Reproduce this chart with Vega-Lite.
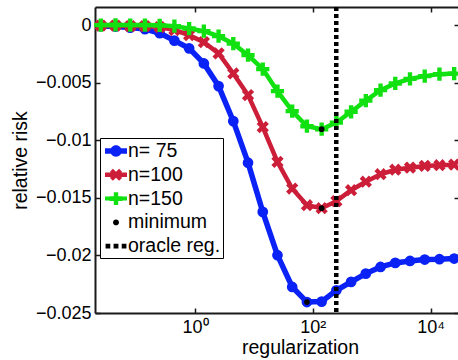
{
  "$schema": "https://vega.github.io/schema/vega-lite/v6.json",
  "width": 363,
  "height": 306,
  "autosize": {"type": "none"},
  "padding": {"left": 95, "top": 7, "right": 0, "bottom": 47},
  "config": {
    "font": "Liberation Sans",
    "view": {"stroke": null},
    "axis": {"grid": false, "domainColor": "#1a1a1a", "domainWidth": 2, "tickColor": "#1a1a1a", "tickWidth": 1.5, "labelColor": "black", "labelFontSize": 18, "titleFontSize": 19.5, "titleFontWeight": "normal", "titleColor": "black", "labelFont": "Liberation Sans", "titleFont": "Liberation Sans"}
  },
  "datasets": {
    "risk": [
      {"lam": 0.025119, "risk": -0.00009, "series": "n= 75"},
      {"lam": 0.044668, "risk": -0.00013, "series": "n= 75"},
      {"lam": 0.079433, "risk": -0.00022, "series": "n= 75"},
      {"lam": 0.141254, "risk": -0.00035, "series": "n= 75"},
      {"lam": 0.251189, "risk": -0.0007, "series": "n= 75"},
      {"lam": 0.446684, "risk": -0.00135, "series": "n= 75"},
      {"lam": 0.794328, "risk": -0.00202, "series": "n= 75"},
      {"lam": 1.412538, "risk": -0.00333, "series": "n= 75"},
      {"lam": 2.511886, "risk": -0.0053, "series": "n= 75"},
      {"lam": 4.466836, "risk": -0.00834, "series": "n= 75"},
      {"lam": 7.943282, "risk": -0.01195, "series": "n= 75"},
      {"lam": 14.12538, "risk": -0.01622, "series": "n= 75"},
      {"lam": 25.11886, "risk": -0.01998, "series": "n= 75"},
      {"lam": 44.66836, "risk": -0.02274, "series": "n= 75"},
      {"lam": 79.43282, "risk": -0.02405, "series": "n= 75"},
      {"lam": 141.2538, "risk": -0.02401, "series": "n= 75"},
      {"lam": 251.1886, "risk": -0.02303, "series": "n= 75"},
      {"lam": 446.6836, "risk": -0.0223, "series": "n= 75"},
      {"lam": 794.3282, "risk": -0.02158, "series": "n= 75"},
      {"lam": 1412.538, "risk": -0.021, "series": "n= 75"},
      {"lam": 2511.886, "risk": -0.02065, "series": "n= 75"},
      {"lam": 4466.836, "risk": -0.02048, "series": "n= 75"},
      {"lam": 7943.282, "risk": -0.02036, "series": "n= 75"},
      {"lam": 14125.38, "risk": -0.02033, "series": "n= 75"},
      {"lam": 25118.86, "risk": -0.02027, "series": "n= 75"},
      {"lam": 0.025119, "risk": -0.00004, "series": "n=100"},
      {"lam": 0.044668, "risk": -0.00004, "series": "n=100"},
      {"lam": 0.079433, "risk": -0.00009, "series": "n=100"},
      {"lam": 0.141254, "risk": -0.00009, "series": "n=100"},
      {"lam": 0.251189, "risk": -0.00017, "series": "n=100"},
      {"lam": 0.446684, "risk": -0.00043, "series": "n=100"},
      {"lam": 0.794328, "risk": -0.00087, "series": "n=100"},
      {"lam": 1.412538, "risk": -0.00148, "series": "n=100"},
      {"lam": 2.511886, "risk": -0.00246, "series": "n=100"},
      {"lam": 4.466836, "risk": -0.0042, "series": "n=100"},
      {"lam": 7.943282, "risk": -0.00608, "series": "n=100"},
      {"lam": 14.12538, "risk": -0.00886, "series": "n=100"},
      {"lam": 25.11886, "risk": -0.01188, "series": "n=100"},
      {"lam": 44.66836, "risk": -0.01419, "series": "n=100"},
      {"lam": 79.43282, "risk": -0.01564, "series": "n=100"},
      {"lam": 141.2538, "risk": -0.0159, "series": "n=100"},
      {"lam": 251.1886, "risk": -0.01529, "series": "n=100"},
      {"lam": 446.6836, "risk": -0.01434, "series": "n=100"},
      {"lam": 794.3282, "risk": -0.0136, "series": "n=100"},
      {"lam": 1412.538, "risk": -0.01295, "series": "n=100"},
      {"lam": 2511.886, "risk": -0.01256, "series": "n=100"},
      {"lam": 4466.836, "risk": -0.01238, "series": "n=100"},
      {"lam": 7943.282, "risk": -0.01223, "series": "n=100"},
      {"lam": 14125.38, "risk": -0.01217, "series": "n=100"},
      {"lam": 25118.86, "risk": -0.01212, "series": "n=100"},
      {"lam": 0.025119, "risk": 0.0, "series": "n=150"},
      {"lam": 0.044668, "risk": 0.00001, "series": "n=150"},
      {"lam": 0.079433, "risk": 0.0, "series": "n=150"},
      {"lam": 0.141254, "risk": 0.0, "series": "n=150"},
      {"lam": 0.251189, "risk": -0.00002, "series": "n=150"},
      {"lam": 0.446684, "risk": -0.00009, "series": "n=150"},
      {"lam": 0.794328, "risk": -0.0003, "series": "n=150"},
      {"lam": 1.412538, "risk": -0.00052, "series": "n=150"},
      {"lam": 2.511886, "risk": -0.00096, "series": "n=150"},
      {"lam": 4.466836, "risk": -0.00161, "series": "n=150"},
      {"lam": 7.943282, "risk": -0.00261, "series": "n=150"},
      {"lam": 14.12538, "risk": -0.00382, "series": "n=150"},
      {"lam": 25.11886, "risk": -0.00574, "series": "n=150"},
      {"lam": 44.66836, "risk": -0.00747, "series": "n=150"},
      {"lam": 79.43282, "risk": -0.00878, "series": "n=150"},
      {"lam": 141.2538, "risk": -0.00904, "series": "n=150"},
      {"lam": 251.1886, "risk": -0.00847, "series": "n=150"},
      {"lam": 446.6836, "risk": -0.00753, "series": "n=150"},
      {"lam": 794.3282, "risk": -0.00656, "series": "n=150"},
      {"lam": 1412.538, "risk": -0.00565, "series": "n=150"},
      {"lam": 2511.886, "risk": -0.00507, "series": "n=150"},
      {"lam": 4466.836, "risk": -0.00467, "series": "n=150"},
      {"lam": 7943.282, "risk": -0.00443, "series": "n=150"},
      {"lam": 14125.38, "risk": -0.00426, "series": "n=150"},
      {"lam": 25118.86, "risk": -0.00421, "series": "n=150"}
    ],
    "oracle": [{"lam": 250}],
    "legend": [{"entry": "n= 75"}, {"entry": "n=100"}, {"entry": "n=150"}, {"entry": "minimum"}, {"entry": "oracle reg."}]
  },
  "data": {"name": "risk"},
  "layer": [
    {
      "transform": [{"filter": "datum.series === 'n= 75'"}],
      "mark": {"type": "line", "color": "#0a22f5", "strokeWidth": 5.5},
      "encoding": {
        "x": {"field": "lam", "type": "quantitative", "scale": {"type": "log", "domain": [0.02004, 29174], "nice": false},
          "axis": {"orient": "bottom", "values": [1, 100, 10000], "labelExpr": "datum.value == 1 ? '10⁰' : datum.value == 100 ? '10²' : '10⁴'", "title": "regularization", "titleX": 205, "tickSize": -5, "labelPadding": 10, "titlePadding": 2, "labelFlush": false}},
        "y": {"field": "risk", "type": "quantitative", "scale": {"domain": [-0.025, 0.00157], "nice": false, "zero": false},
          "axis": {"orient": "left", "values": [0, -0.005, -0.01, -0.015, -0.02, -0.025], "format": ".3~f", "title": "relative risk", "tickSize": -5, "labelPadding": 9, "titlePadding": 5}}
      }
    },
    {
      "transform": [{"filter": "datum.series === 'n= 75'"}],
      "mark": {"type": "point", "shape": "circle", "filled": true, "color": "#0a22f5", "size": 115, "opacity": 1},
      "encoding": {
        "x": {"field": "lam", "type": "quantitative", "scale": {"type": "log", "domain": [0.02004, 29174], "nice": false}, "axis": null},
        "y": {"field": "risk", "type": "quantitative", "axis": null}
      }
    },
    {
      "transform": [{"filter": "datum.series === 'n=100'"}],
      "mark": {"type": "line", "color": "#cc1e39", "strokeWidth": 4.5},
      "encoding": {
        "x": {"field": "lam", "type": "quantitative", "scale": {"type": "log", "domain": [0.02004, 29174], "nice": false}, "axis": null},
        "y": {"field": "risk", "type": "quantitative", "axis": null}
      }
    },
    {
      "transform": [{"filter": "datum.series === 'n=100'"}],
      "mark": {"type": "point", "shape": "M-1,-0.5L-0.5,-1L0,-0.5L0.5,-1L1,-0.5L0.5,0L1,0.5L0.5,1L0,0.5L-0.5,1L-1,0.5L-0.5,0Z", "filled": true, "color": "#cc1e39", "size": 150, "opacity": 1},
      "encoding": {
        "x": {"field": "lam", "type": "quantitative", "scale": {"type": "log", "domain": [0.02004, 29174], "nice": false}, "axis": null},
        "y": {"field": "risk", "type": "quantitative", "axis": null}
      }
    },
    {
      "transform": [{"filter": "datum.series === 'n=150'"}],
      "mark": {"type": "line", "color": "#11e011", "strokeWidth": 4.5},
      "encoding": {
        "x": {"field": "lam", "type": "quantitative", "scale": {"type": "log", "domain": [0.02004, 29174], "nice": false}, "axis": null},
        "y": {"field": "risk", "type": "quantitative", "axis": null}
      }
    },
    {
      "transform": [{"filter": "datum.series === 'n=150'"}],
      "mark": {"type": "point", "shape": "M-1,-0.33H-0.33V-1H0.33V-0.33H1V0.33H0.33V1H-0.33V0.33H-1Z", "filled": true, "color": "#11e011", "size": 175, "opacity": 1},
      "encoding": {
        "x": {"field": "lam", "type": "quantitative", "scale": {"type": "log", "domain": [0.02004, 29174], "nice": false}, "axis": null},
        "y": {"field": "risk", "type": "quantitative", "axis": null}
      }
    },
    {
      "transform": [
        {"joinaggregate": [{"op": "min", "field": "risk", "as": "minrisk"}], "groupby": ["series"]},
        {"filter": "datum.risk === datum.minrisk"}
      ],
      "mark": {"type": "point", "shape": "circle", "filled": true, "color": "black", "size": 32, "opacity": 1},
      "encoding": {
        "x": {"field": "lam", "type": "quantitative", "scale": {"type": "log", "domain": [0.02004, 29174], "nice": false}, "axis": null},
        "y": {"field": "risk", "type": "quantitative",
          "axis": {"orient": "right", "values": [0, -0.005, -0.01, -0.015, -0.02, -0.025], "labels": false, "domain": false, "tickSize": -4, "title": null}}
      }
    },
    {
      "data": {"name": "oracle"},
      "mark": {"type": "rule", "color": "black", "strokeWidth": 4.5, "strokeDash": [4, 3]},
      "encoding": {
        "x": {"field": "lam", "type": "quantitative", "scale": {"type": "log", "domain": [0.02004, 29174], "nice": false},
          "axis": {"orient": "top", "values": [1, 100, 10000], "labels": false, "tickSize": -5, "title": null}}
      }
    },
    {
      "data": {"name": "legend"},
      "mark": {"type": "point", "filled": true, "opacity": 0, "strokeWidth": 0},
      "encoding": {
        "color": {"field": "entry", "type": "nominal",
          "scale": {"domain": ["n= 75", "n=100", "n=150", "minimum", "oracle reg."], "range": ["#0a22f5", "#cc1e39", "#11e011", "black", "black"]},
          "legend": {"title": null, "orient": "none", "legendX": 5, "legendY": 131, "symbolSize": 484, "symbolOpacity": 1, "symbolStrokeWidth": 0, "symbolOffset": 3, "labelFont": "Liberation Sans", "labelFontSize": 19.5, "labelColor": "black", "labelOffset": 1, "strokeColor": "black", "fillColor": "white", "padding": 2, "rowPadding": 2.8}},
        "shape": {"field": "entry", "type": "nominal",
          "scale": {"domain": ["n= 75", "n=100", "n=150", "minimum", "oracle reg."],
            "range": [
              "M-1,-0.25H1V0.25H-1Z M-0.52,0A0.52,0.52 0 1,1 0.52,0A0.52,0.52 0 1,1 -0.52,0Z",
              "M-1,-0.2H1V0.2H-1Z M-0.55,-0.28L-0.28,-0.55L0,-0.27L0.28,-0.55L0.55,-0.28L0.27,0L0.55,0.28L0.28,0.55L0,0.27L-0.28,0.55L-0.55,0.28L-0.27,0Z",
              "M-1,-0.18H1V0.18H-1Z M-0.2,-0.58H0.2V0.58H-0.2Z M-0.58,-0.22H0.58V0.22H-0.58Z",
              "M-0.27,0A0.27,0.27 0 1,1 0.27,0A0.27,0.27 0 1,1 -0.27,0Z",
              "M-0.95,-0.22H-0.52V0.22H-0.95Z M-0.22,-0.22H0.22V0.22H-0.22Z M0.52,-0.22H0.95V0.22H0.52Z"
            ]},
          "legend": {"title": null, "orient": "none", "legendX": 5, "legendY": 131, "symbolSize": 484, "symbolOpacity": 1, "symbolStrokeWidth": 0, "symbolOffset": 3, "labelFont": "Liberation Sans", "labelFontSize": 19.5, "labelColor": "black", "labelOffset": 1, "strokeColor": "black", "fillColor": "white", "padding": 2, "rowPadding": 2.8}}
      }
    }
  ],
  "resolve": {"axis": {"x": "independent", "y": "independent"}}
}
